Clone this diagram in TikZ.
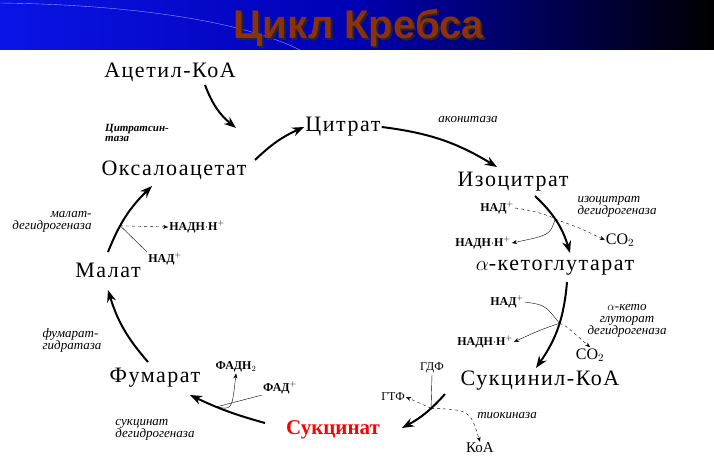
\documentclass[tikz,border=0pt]{standalone}
\usepackage{fontspec}
\setmainfont{Liberation Serif}
\newfontfamily\titlefont{Liberation Sans}
\newfontfamily\metfont[LetterSpace=7]{Liberation Serif}
\usetikzlibrary{arrows.meta}
\definecolor{titlebrown}{RGB}{140,50,10}
\definecolor{slideblue}{RGB}{10,20,230}
\tikzset{
  met/.style={font=\metfont\fontsize{22}{22}\selectfont, inner sep=1pt},
  enz/.style={font=\itshape\fontsize{13}{12}\selectfont, align=left, inner sep=1pt},
  cof/.style={font=\bfseries\fontsize{12}{12}\selectfont, inner sep=1pt},
  gas/.style={font=\fontsize{16}{16}\selectfont, inner sep=1pt},
  cycle/.style={line width=2pt, -{Stealth[length=12pt,width=9pt]}},
  side/.style={thin, -{Stealth[length=5pt,width=4pt]}}
}
\newcommand\shadowtext[1]{\makebox[0pt][l]{\hspace{2pt}\raisebox{-2pt}{\color{black!85}#1}}#1}
\begin{document}
\begin{tikzpicture}[x=1pt,y=-1pt]
	\useasboundingbox (0,0) rectangle (714,473);
	\fill[white] (0,0) rectangle (714,473);
	\shade[left color=slideblue, right color=black, middle color=blue!70!black] (0,0) rectangle (714,50);
	\draw[white!60!blue, thin] (0,3) .. controls (150,5) and (250,25) .. (300,50);
	\node[font=\titlefont\bfseries\fontsize{40}{40}\selectfont, text=titlebrown] (title) at (359,29) {\shadowtext{Цикл Кребса}};
	% metabolites
	\node[met] (acoa) at (170,72) {Ацетил-КоА};
	\node[met] (cit) at (343,127) {Цитрат};
	\node[met] (oaa) at (174,170) {Оксалоацетат};
	\node[met] (icit) at (513,182) {Изоцитрат};
	\node[met] (akg) at (555,268) {$\alpha$-кетоглутарат};
	\node[met] (mal) at (108,270) {Малат};
	\node[met] (fum) at (155,378) {Фумарат};
	\node[met] (scoa) at (540,381) {Сукцинил-КоА};
	\node[met, text=red, font=\bfseries\fontsize{21}{21}\selectfont] (succ) at (333,430) {Сукцинат};
	% enzymes
	\node[enz] (acon) at (468,120) {аконитаза};
	\node[enz, font=\bfseries\itshape\fontsize{11}{10}\selectfont] (cs) at (137,133) {Цитратсин-\\таза};
	\node[enz] (idh) at (617,207) {изоцитрат\\дегидрогеназа};
	\node[enz, align=center] (kgdh) at (627,321) {$\alpha$-кето\\глуторат\\дегидрогеназа};
	\node[enz, align=right] (mdh) at (52,222) {малат-\\дегидрогеназа};
	\node[enz] (fh) at (72,340) {фумарат-\\гидратаза};
	\node[enz] (sdh) at (155,430) {сукцинат\\дегидрогеназа};
	\node[enz] (tk) at (507,416) {тиокиназа};
	% cofactors
	\node[cof] (nad1) at (497,208) {НАД$^+$};
	\node[cof] (nadh1) at (483,243) {НАДН$\cdot$Н$^+$};
	\node[gas] (co1) at (620,240) {CO$_2$};
	\node[cof] (nad2) at (507,302) {НАД$^+$};
	\node[cof] (nadh2) at (485,342) {НАДН$\cdot$Н$^+$};
	\node[gas] (co2) at (590,355) {CO$_2$};
	\node[cof] (nadh3) at (197,227) {НАДН$\cdot$Н$^+$};
	\node[cof] (nad3) at (165,259) {НАД$^+$};
	\node[cof] (fadh) at (236,367) {ФАДН$_2$};
	\node[cof] (fad) at (280,388) {ФАД$^+$};
	\node[cof, font=\fontsize{12}{12}\selectfont] (gdp) at (432,368) {ГДФ};
	\node[cof, font=\fontsize{12}{12}\selectfont] (gtp) at (393,397) {ГТФ};
	\node[gas, font=\fontsize{15}{15}\selectfont] (koa) at (480,448) {КоА};
	% cycle arrows
	\draw[cycle] (205,85) to[bend right=15] (236,128);
	\draw[cycle] (255,160) to[bend left=10] (cit.west);
	\draw[cycle] (cit.east) to[bend left=12] (497,167);
	\draw[cycle] (535,196) to[bend left=15] coordinate[pos=.45] (p1) (570,253);
	\draw[cycle] (567,282) to[bend left=15] coordinate[pos=.45] (p2) (536,368);
	\draw[cycle] (445,394) to[bend left=10] coordinate[pos=.35] (p3) (402,428);
	\draw[cycle] (265,423) to[bend left=5] coordinate[pos=.65] (p4) (190,395);
	\draw[cycle] (148,362) to[bend left=12] (108,290);
	\draw[cycle] (108,252) to[bend left=12] coordinate[pos=.35] (p5) (152,186);
	% side reactions
	\draw[side, dashed] (nad1.east) .. controls (530,210) and (550,215) .. (p1) .. controls (580,228) .. (co1.west);
	\draw[side] (p1) .. controls (550,235) .. (nadh1.east);
	\draw[thin] (nad2.east) .. controls (545,305) .. (p2);
	\draw[side] (p2) .. controls (540,330) .. (nadh2.east);
	\draw[side, dashed] (p2) .. controls (565,325) .. (co2.north);
	\draw[side, dashed] (p5) -- (nadh3.west);
	\draw[thin] (p5) -- (nad3.north west);
	\draw[thin] (p4) -- (fad.south west);
	\draw[side] (p4) .. controls (232,410) .. (fadh.south);
	\draw[thin] (gdp.south) -- (p3);
	\draw[side, dashed] (p3) -- (gtp.east);
	\draw[side, dashed] (p3) .. controls (470,410) .. (koa.north);
\end{tikzpicture}
\end{document}
